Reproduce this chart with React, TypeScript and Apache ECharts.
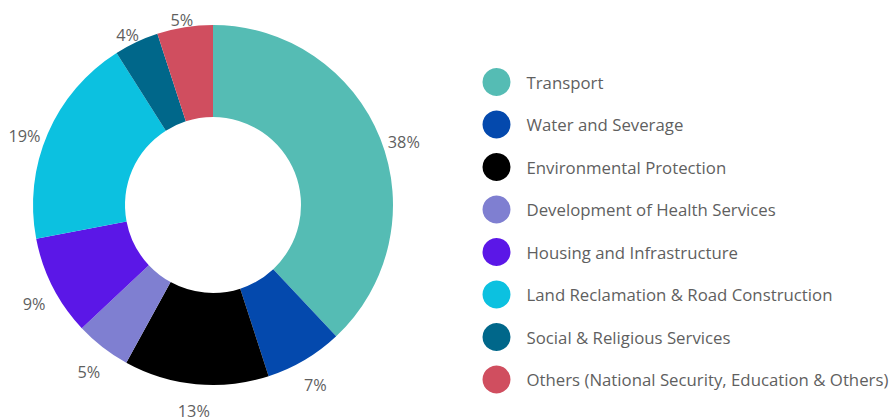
import React, { useEffect, useRef } from "react";
import * as echarts from "echarts";

const categories = [
  "Transport",
  "Water and Severage",
  "Environmental Protection",
  "Development of Health Services",
  "Housing and Infrastructure",
  "Land Reclamation & Road Construction",
  "Social & Religious Services",
  "Others (National Security, Education & Others)",
];
const values = [38, 7, 13, 5, 9, 19, 4, 5];
const colors = [
  "#55bcb4",
  "#0449ad",
  "#000000",
  "#7f7fd1",
  "#5b17e7",
  "#0cc1e0",
  "#00678a",
  "#d04e5f",
];

const CX = 213;
const CY = 205;
const R_OUT = 180;
const R_IN = 88;
const GAP = 8;
const SHIFT = 9.5;
const LABEL_H = 18;

export default function App() {
  const ref = useRef<HTMLDivElement>(null);
  useEffect(() => {
    if (!ref.current) return;
    const chart = echarts.init(ref.current, undefined, { renderer: "svg" });
    const total = values.reduce((a, b) => a + b, 0);
    const mids: number[] = [];
    let acc = 0;
    values.forEach((v) => {
      mids.push(((acc + v / 2) / total) * Math.PI * 2);
      acc += v;
    });
    chart.setOption({
      animation: false,
      textStyle: { fontFamily: "Open Sans" },
      legend: {
        orient: "vertical",
        left: 482.5,
        top: 68,
        padding: 0,
        icon: "circle",
        itemWidth: 28,
        itemHeight: 28,
        itemGap: 14.5,
        selectedMode: false,
        textStyle: {
          fontFamily: "Open Sans",
          fontSize: 16.8,
          color: "#5f5f5f",
          padding: [0, 0, 0, 11],
        },
        data: categories,
      },
      series: [
        {
          type: "pie",
          center: [CX, CY],
          radius: [R_IN, R_OUT],
          startAngle: 90,
          clockwise: true,
          avoidLabelOverlap: false,
          emphasis: { disabled: true },
          label: {
            show: true,
            position: "outside",
            formatter: "{c}%",
            fontFamily: "Open Sans",
            fontSize: 16.3,
            color: "#5f5f5f",
          },
          labelLine: { show: false },
          labelLayout: (params: any) => {
            const a = mids[params.dataIndex];
            const vx = Math.sin(a);
            const vy = -Math.cos(a);
            const m = Math.max(Math.abs(vx), Math.abs(vy));
            const w = params.labelRect.width;
            const x = CX + vx * (R_OUT + GAP) + (vx / m) * (w / 2);
            const y = CY + vy * (R_OUT + GAP) + (vy / m) * (LABEL_H / 2) + SHIFT;
            return { x, y, align: "center", verticalAlign: "middle" };
          },
          data: categories.map((name, i) => ({
            name,
            value: values[i],
            itemStyle: { color: colors[i] },
          })),
        },
      ],
    });
    return () => chart.dispose();
  }, []);
  return (
    <div
      ref={ref}
      style={{ position: "absolute", left: 0, top: 0, width: 890, height: 419 }}
    />
  );
}
